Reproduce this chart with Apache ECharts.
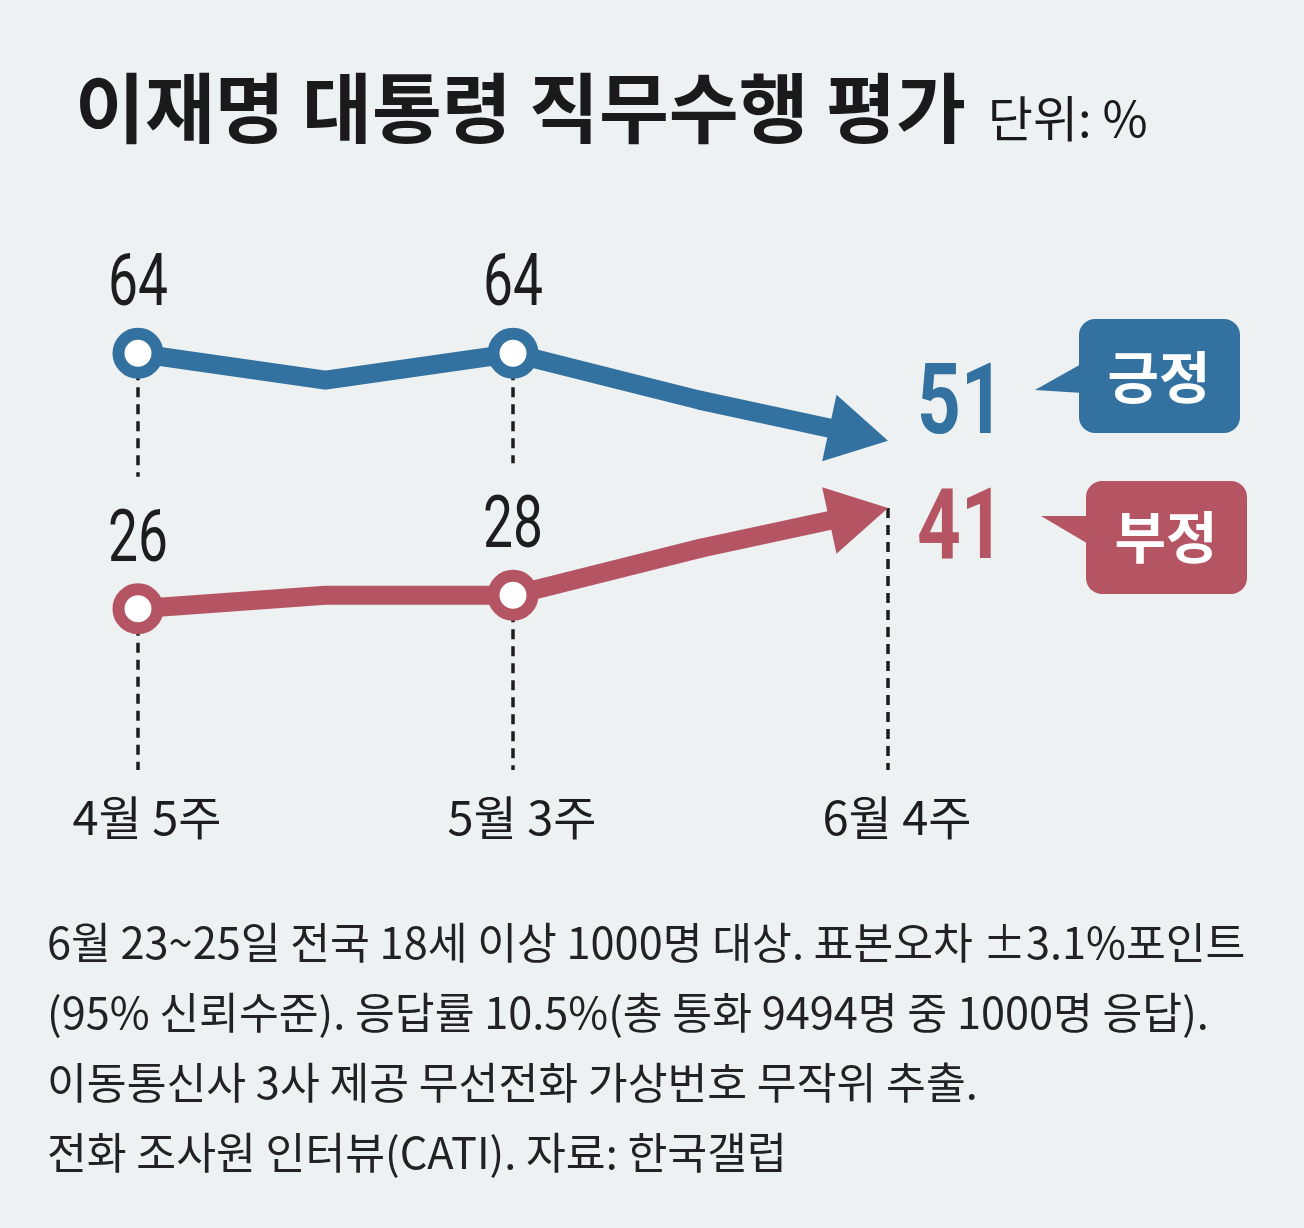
<!DOCTYPE html>
<html>
<head>
<meta charset="utf-8">
<script src="https://cdn.jsdelivr.net/npm/echarts@6/dist/echarts.min.js"></script>
<style>
  html, body { margin: 0; padding: 0; background: #edf1f2; }
  #main { width: 1304px; height: 1228px; }
</style>
</head>
<body>
<div id="main"></div>
<script>
// 조사 주차 (중간 두 점은 라벨 없음)
const weeks = ['4월 5주', '', '5월 3주', ' ', '6월 4주']
// 긍정 / 부정 (%)
const positive = [64, 60, 64, 57, 51]
const negative = [26, 28, 28, 35, 41]
const labeled = [0, 2, 4]

const BLUE = '#3271a0'
const RED = '#b55463'
const BG = '#edf1f2'
const NUM_FONT = 'Roboto, sans-serif'
const KR_FONT = '"Noto Sans CJK KR", sans-serif'

const chart = echarts.init(document.getElementById('main'))

// 선 + 원형 마커 (마지막 구간은 화살표 시리즈가 그림)
function lineSeries(name, vals, color) {
  return {
    type: 'line',
    name: name,
    z: 3,
    data: vals.slice(0, vals.length - 1).map(function (v, i) {
      return { value: v, symbol: labeled.indexOf(i) >= 0 ? 'circle' : 'none' }
    }),
    symbolSize: 39,
    showAllSymbol: true,
    lineStyle: { color: color, width: 19, cap: 'round', join: 'round' },
    itemStyle: { color: '#fff', borderColor: color, borderWidth: 12 },
    emphasis: { disabled: true },
    animation: false
  }
}

// 마지막 구간 + 화살촉 + 최종값
function arrowSeries(name, vals, color, dy) {
  const n = vals.length
  return {
    type: 'custom',
    name: name,
    z: 4,
    data: [[n - 2, vals[n - 2], n - 1, vals[n - 1]]],
    encode: { x: [0, 2], y: [1, 3] },
    renderItem: function (params, api) {
      const a = api.coord([api.value(0), api.value(1)])
      const b = api.coord([api.value(2), api.value(3)])
      const dx = b[0] - a[0]
      const dy2 = b[1] - a[1]
      const len = Math.sqrt(dx * dx + dy2 * dy2)
      const ux = dx / len
      const uy = dy2 / len
      const L = 60
      const W = 34
      const bx = b[0] - ux * L
      const by = b[1] - uy * L
      return {
        type: 'group',
        children: [
          {
            type: 'line',
            shape: { x1: a[0], y1: a[1], x2: bx + ux * 6, y2: by + uy * 6 },
            style: { stroke: color, lineWidth: 19, lineCap: 'round' }
          },
          {
            type: 'polygon',
            shape: { points: [[b[0], b[1]], [bx - uy * W, by + ux * W], [bx + uy * W, by - ux * W]] },
            style: { fill: color }
          },
          {
            type: 'text',
            x: b[0] + 29,
            y: b[1] + dy,
            scaleX: 0.78,
            style: {
              text: String(api.value(3)),
              fill: color,
              fontSize: 98,
              fontWeight: 'bold',
              fontFamily: NUM_FONT,
              align: 'left',
              verticalAlign: 'middle'
            }
          }
        ]
      }
    },
    animation: false
  }
}

// 원형 마커 위 수치
const labelData = []
labeled.slice(0, 2).forEach(function (i) {
  labelData.push([i, positive[i]])
  labelData.push([i, negative[i]])
})
const labelSeries = {
  type: 'custom',
  z: 5,
  data: labelData,
  encode: { x: 0, y: 1 },
  renderItem: function (params, api) {
    const p = api.coord([api.value(0), api.value(1)])
    return {
      type: 'text',
      x: p[0],
      y: p[1] - 66,
      scaleX: 0.74,
      style: {
        text: String(api.value(1)),
        fill: '#1d1d1d',
        fontSize: 72,
        fontFamily: NUM_FONT,
        align: 'center',
        verticalAlign: 'middle'
      }
    }
  },
  animation: false
}

// 세로 점선
const dropData = labeled.map(function (i) { return [i, positive[i], negative[i], i < weeks.length - 1 ? 1 : 0] })
const dropSeries = {
  type: 'custom',
  z: 1,
  data: dropData,
  encode: { x: 0, y: [1, 2] },
  renderItem: function (params, api) {
    const x = api.value(0)
    const top = api.coord([x, api.value(1)])
    const mid = api.coord([x, api.value(2)])
    const bottom = api.coord([x, 2])
    const st = { stroke: '#1d1d1d', lineWidth: 3.5, lineDash: [10, 7] }
    const children = [
      { type: 'line', shape: { x1: mid[0], y1: mid[1], x2: bottom[0], y2: bottom[1] }, style: st }
    ]
    if (api.value(3)) {
      children.push({ type: 'line', shape: { x1: top[0], y1: top[1], x2: top[0], y2: mid[1] - 132 }, style: st })
    }
    return { type: 'group', children: children }
  },
  animation: false
}

const option = {
  backgroundColor: BG,
  title: [
    {
      text: '{a|이재명 대통령 직무수행 평가}{b|단위: %}',
      left: 70,
      top: 57,
      textStyle: {
        rich: {
          a: { fontSize: 76, fontWeight: 'bold', fontFamily: KR_FONT, color: '#1a1a1a', lineHeight: 92 },
          b: { fontSize: 49, fontWeight: 'normal', fontFamily: KR_FONT, color: '#1a1a1a', verticalAlign: 'bottom', padding: [0, 0, 11, 22] }
        }
      }
    },
    {
      text: '6월 23~25일 전국 18세 이상 1000명 대상. 표본오차 ±3.1%포인트\n' +
        '(95% 신뢰수준). 응답률 10.5%(총 통화 9494명 중 1000명 응답).\n' +
        '이동통신사 3사 제공 무선전화 가상번호 무작위 추출.\n' +
        '전화 조사원 인터뷰(CATI). 자료: 한국갤럽',
      left: 42,
      top: 903,
      textStyle: { fontSize: 43.3, fontWeight: 'normal', fontFamily: KR_FONT, color: '#222', lineHeight: 70 }
    }
  ],
  grid: { left: 138, right: 416, top: 313, bottom: 458 },
  xAxis: {
    type: 'category',
    data: weeks,
    boundaryGap: false,
    axisLine: { show: false },
    axisTick: { show: false },
    splitLine: { show: false },
    axisLabel: {
      interval: 1,
      margin: 24,
      padding: [0, 0, 0, 18],
      fontSize: 47,
      fontFamily: KR_FONT,
      color: '#1d1d1d'
    }
  },
  yAxis: {
    type: 'value',
    min: 2,
    max: 70,
    show: false
  },
  series: [
    dropSeries,
    lineSeries('긍정', positive, BLUE),
    lineSeries('부정', negative, RED),
    arrowSeries('긍정', positive, BLUE, -32),
    arrowSeries('부정', negative, RED, 26),
    labelSeries
  ],
  graphic: [
    { type: 'polygon', shape: { points: [[1035, 390], [1083, 363], [1083, 393]] }, style: { fill: BLUE } },
    { type: 'rect', shape: { x: 1079, y: 319, width: 161, height: 114, r: 16 }, style: { fill: BLUE } },
    {
      type: 'text', x: 1159, y: 377,
      style: { text: '긍정', fill: '#fff', fontSize: 56, fontWeight: 'bold', fontFamily: KR_FONT, align: 'center', verticalAlign: 'middle' }
    },
    { type: 'polygon', shape: { points: [[1041, 516], [1090, 516], [1090, 545]] }, style: { fill: RED } },
    { type: 'rect', shape: { x: 1086, y: 481, width: 161, height: 113, r: 16 }, style: { fill: RED } },
    {
      type: 'text', x: 1166, y: 537,
      style: { text: '부정', fill: '#fff', fontSize: 56, fontWeight: 'bold', fontFamily: KR_FONT, align: 'center', verticalAlign: 'middle' }
    }
  ]
}

chart.setOption(option)
</script>
</body>
</html>
